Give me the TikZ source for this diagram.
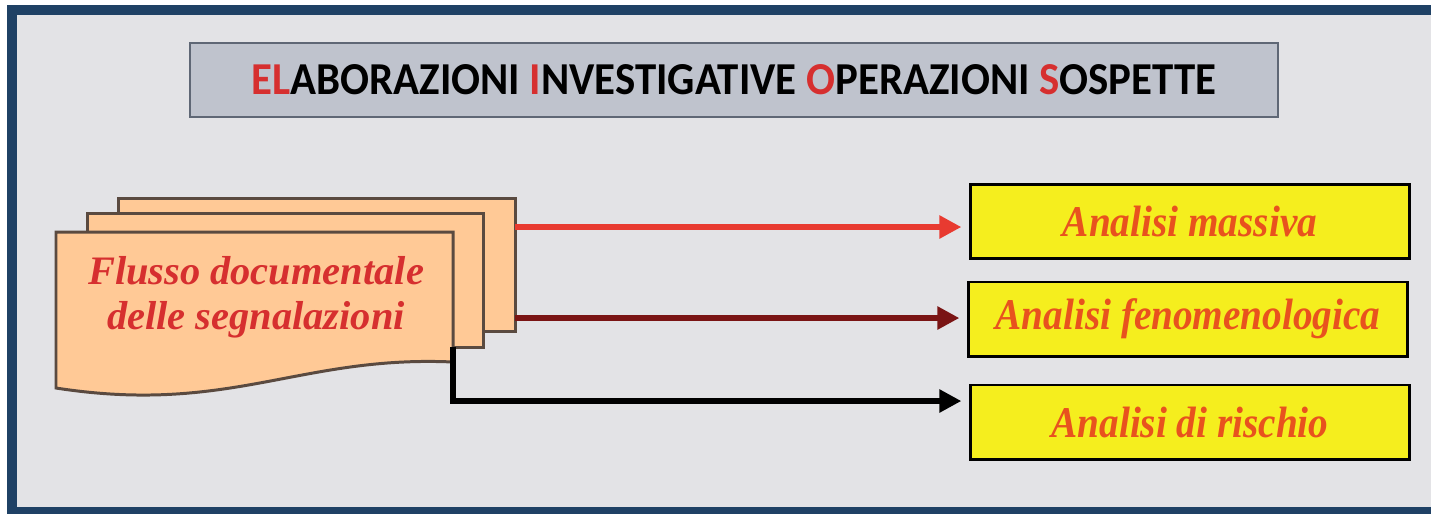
\documentclass[tikz,border=0pt]{standalone}
\usepackage{fontspec}
\setmainfont{Liberation Serif}
\newfontfamily\titlefont{Carlito}
\usetikzlibrary{arrows.meta,positioning,calc}
\definecolor{eiosnavy}{HTML}{1F4165}
\definecolor{eiosbg}{HTML}{E3E3E6}
\definecolor{eiosgrey}{HTML}{BFC3CD}
\definecolor{eiosframe}{HTML}{5F6775}
\definecolor{eiosred}{HTML}{D62F2F}
\definecolor{eiospeach}{HTML}{FFC996}
\definecolor{eiosedge}{HTML}{5A4A40}
\definecolor{eiosyellow}{HTML}{F5EE1E}
\definecolor{eiosorange}{HTML}{E8521E}
\definecolor{eiosarrow}{HTML}{E83A30}
\definecolor{eiosbrown}{HTML}{7A1414}
\newcommand{\narrowtext}[1]{\scalebox{0.93}[1.04]{#1}}

\begin{document}
\begin{tikzpicture}[
  x=0.01cm,y=-0.01cm,
  titlebox/.style={draw=eiosframe,line width=0.6pt,fill=eiosgrey,minimum width=10.88cm,minimum height=0.74cm,inner sep=0pt},
  page/.style={draw=eiosedge,line width=0.85pt,fill=eiospeach},
  outbox/.style={draw=black,line width=0.85pt,fill=eiosyellow,minimum width=4.38cm,minimum height=0.74cm,inner sep=0pt,
    font=\bfseries\itshape\fontsize{12}{14}\selectfont,text=eiosorange},
  fl/.style={-{Triangle[length=0.22cm,width=0.22cm]},line width=1.7pt,shorten >=0.08cm}
]
\useasboundingbox (0,0) rectangle (1431,514);
\fill[white] (0,0) rectangle (1431,514);
\fill[eiosnavy] (7,5) rectangle (1431,514);
\fill[eiosbg] (17,15) rectangle (1431,507);

% titolo
\node[titlebox] (title) at (734,80) {\titlefont\bfseries\fontsize{12.5}{14}\selectfont
  \scalebox{0.975}[1.04]{\textcolor{eiosred}{EL}ABORAZIONI \textcolor{eiosred}{I}NVESTIGATIVE \textcolor{eiosred}{O}PERAZIONI \textcolor{eiosred}{S}OSPETTE}};

% pila di documenti
\node[page,minimum width=3.96cm,minimum height=1.32cm,inner sep=0pt] (pageback) at (317,265) {};
\node[page,minimum width=3.95cm,minimum height=1.33cm,inner sep=0pt] (pagemid) at (285.5,280.5) {};
\draw[page] (56,232) -- (453,232) -- (453,362)
  .. controls (300,355) and (230,415) .. (56,388) -- cycle;
\node[align=center,font=\bfseries\itshape\fontsize{11.5}{12.8}\selectfont,text=eiosred] (doc) at (256,297)
  {Flusso documentale\\delle segnalazioni};

% analisi
\node[outbox] (massiva) at (1190,221.5) {\narrowtext{Analisi massiva}};
\node[outbox] (fenom) at (1188,319) {\narrowtext{Analisi fenomenologica}};
\node[outbox] (rischio) at (1190,422) {\narrowtext{Analisi di rischio}};

\coordinate (r1) at (515,227);
\coordinate (r2) at (515,318);
\coordinate (k1) at (453,347);
\coordinate (k2) at (453,401);

\draw[fl,eiosarrow] (r1) -- (r1 -| massiva.west);
\draw[fl,eiosbrown] (r2) -- (r2 -| fenom.west);
\draw[fl,black] (k1) -- (k2) -- (k2 -| rischio.west);
\end{tikzpicture}
\end{document}
